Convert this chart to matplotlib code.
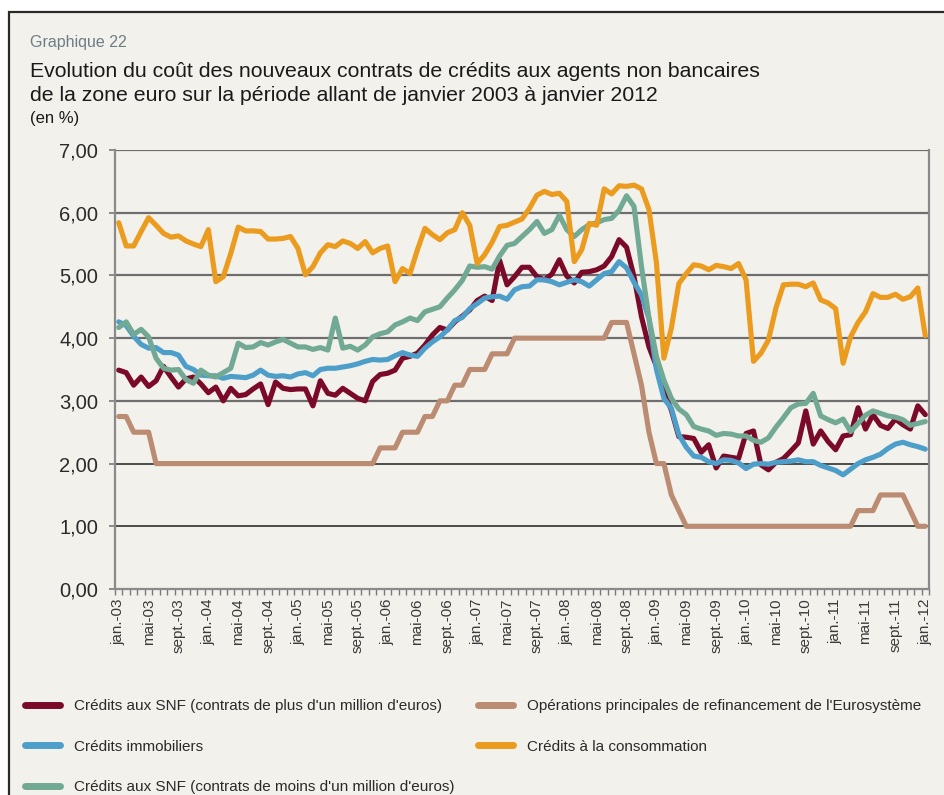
"""
Graphique 22 : coût des nouveaux contrats de crédits, zone euro, janv. 2003 - janv. 2012
"""

import matplotlib
matplotlib.use('Agg')
import matplotlib.pyplot as plt
from matplotlib.lines import Line2D
from matplotlib.patches import Rectangle
from matplotlib.ticker import FixedLocator, FuncFormatter
import numpy as np

# Données mensuelles (en %), janv. 2003 -> janv. 2012 (109 mois)
snf_plus_1m = [
    3.49, 3.45, 3.25, 3.38, 3.23, 3.32, 3.55, 3.38, 3.22, 3.35,
    3.38, 3.27, 3.13, 3.22, 3.00, 3.20, 3.08, 3.10, 3.19, 3.27,
    2.94, 3.30, 3.20, 3.18, 3.19, 3.19, 2.92, 3.32,
    3.12, 3.09, 3.20, 3.12, 3.04, 3.00, 3.31, 3.42, 3.44, 3.49,
    3.68, 3.71, 3.76, 3.89, 4.05, 4.17, 4.13, 4.26, 4.35, 4.45,
    4.60, 4.67, 4.60, 5.24, 4.85, 4.98,
    5.13, 5.13, 4.98, 4.93, 5.02, 5.25, 4.99, 4.88, 5.05, 5.06,
    5.09, 5.15, 5.30, 5.57, 5.45,
    4.98, 4.34, 3.86, 3.55, 3.17, 2.85, 2.43, 2.42, 2.40, 2.18, 2.30, 1.93,
    2.12, 2.10, 2.08, 2.48, 2.52, 1.98, 1.90, 2.02, 2.08, 2.20,
    2.33, 2.84, 2.31, 2.52, 2.35, 2.22, 2.44, 2.46, 2.89, 2.55,
    2.78, 2.61, 2.56, 2.71, 2.62, 2.55, 2.92, 2.78,
]
immobilier = [
    4.26, 4.20, 4.03, 3.90, 3.84, 3.85, 3.77, 3.77, 3.73, 3.55,
    3.50, 3.41, 3.40, 3.40, 3.36, 3.39, 3.38, 3.37, 3.41, 3.49,
    3.41, 3.39, 3.40, 3.38, 3.43, 3.45, 3.40, 3.50,
    3.52, 3.52, 3.54, 3.56, 3.59, 3.63, 3.66, 3.65, 3.66, 3.72,
    3.77, 3.73, 3.71, 3.84, 3.94, 4.02, 4.13, 4.28, 4.33, 4.47, 4.55,
    4.64, 4.66, 4.67, 4.62, 4.77, 4.82, 4.83, 4.93, 4.93, 4.90,
    4.85, 4.89, 4.93, 4.90, 4.83, 4.93, 5.03, 5.06, 5.22, 5.12,
    4.89, 4.69, 4.31, 3.50, 3.04, 2.88, 2.46, 2.26, 2.12, 2.10, 2.03, 2.00,
    2.06, 2.05, 2.01, 1.92, 1.99, 2.00, 1.99, 2.02, 2.03, 2.04,
    2.06, 2.03, 2.03, 1.97, 1.93, 1.89, 1.82, 1.91, 2.00, 2.06,
    2.10, 2.15, 2.24, 2.31, 2.34, 2.30, 2.27, 2.23,
]
snf_moins_1m = [
    4.17, 4.26, 4.06, 4.14, 4.02, 3.68, 3.52, 3.49, 3.50, 3.34,
    3.28, 3.49, 3.41, 3.38, 3.45, 3.52, 3.92, 3.85, 3.86, 3.93,
    3.89, 3.94, 3.98, 3.92, 3.86, 3.86, 3.82, 3.85,
    3.81, 4.32, 3.84, 3.87, 3.81, 3.89, 4.02, 4.07, 4.10, 4.21,
    4.26, 4.32, 4.28, 4.42, 4.46, 4.50, 4.64, 4.77, 4.92, 5.15, 5.13,
    5.14, 5.10, 5.31, 5.48, 5.51, 5.62, 5.73, 5.86, 5.67, 5.73,
    5.96, 5.73, 5.62, 5.73, 5.81, 5.84, 5.89, 5.91, 6.04, 6.27,
    6.10, 5.14, 4.32, 3.71, 3.33, 3.04, 2.87, 2.78, 2.59, 2.55, 2.52, 2.45,
    2.48, 2.47, 2.44, 2.44, 2.37, 2.34, 2.41, 2.58, 2.73, 2.89,
    2.95, 2.96, 3.12, 2.76, 2.70, 2.65, 2.71, 2.51, 2.64, 2.77,
    2.84, 2.80, 2.76, 2.74, 2.70, 2.61, 2.64, 2.67,
]
refinancement = (
    [2.75] * 2 + [2.50] * 3 + [2.00] * 30 + [2.25] * 3 + [2.50] * 3
    + [2.75] * 2 + [3.00] * 2 + [3.25] * 2 + [3.50] * 3 + [3.75] * 3
    + [4.00] * 13 + [4.25] * 3 + [3.75, 3.25, 2.50, 2.00, 2.00, 1.50, 1.25]
    + [1.00] * 23 + [1.25] * 3 + [1.50] * 4 + [1.25] + [1.00] * 2
)
consommation = [
    5.84, 5.47, 5.47, 5.70, 5.92, 5.80, 5.67, 5.61, 5.63, 5.55,
    5.50, 5.46, 5.73, 4.90, 4.98, 5.35, 5.77, 5.71, 5.71, 5.70,
    5.58, 5.58, 5.59, 5.62, 5.43, 5.01, 5.14, 5.36,
    5.49, 5.46, 5.55, 5.51, 5.43, 5.54, 5.36, 5.43, 5.47, 4.90,
    5.11, 5.03, 5.41, 5.75, 5.65, 5.57, 5.68, 5.73, 6.00, 5.80,
    5.19, 5.33, 5.53, 5.78, 5.80, 5.85,
    5.90, 6.07, 6.28, 6.34, 6.29, 6.31, 6.18, 5.22, 5.41, 5.83,
    5.80, 6.38, 6.30, 6.43, 6.42,
    6.44, 6.38, 6.05, 5.20, 3.68, 4.16, 4.87, 5.03, 5.17, 5.15, 5.09, 5.16,
    5.14, 5.11, 5.19, 4.93, 3.63, 3.76, 3.97, 4.48, 4.85, 4.86,
    4.86, 4.82, 4.88, 4.61, 4.56, 4.47, 3.60, 4.02, 4.25, 4.42,
    4.71, 4.65, 4.65, 4.70, 4.62, 4.66, 4.80, 4.04,
]

mois_labels = ['jan.', 'mai', 'sept.']
annees = range(2003, 2013)
x_labels = [f'{m}-{a % 100:02d}' for a in annees for m in mois_labels][:28]

series = [
    ('Crédits aux SNF (contrats de plus d\'un million d\'euros)', snf_plus_1m, '#7b0a28'),
    ('Crédits immobiliers', immobilier, '#4d9fca'),
    ('Crédits aux SNF (contrats de moins d\'un million d\'euros)', snf_moins_1m, '#72a995'),
    ('Opérations principales de refinancement de l\'Eurosystème', refinancement, '#bb8b72'),
    ('Crédits à la consommation', consommation, '#eb9b1d'),
]

BG = '#f2f1ec'
FONT = ['Liberation Sans', 'DejaVu Sans']
W, H = 944, 795

fig = plt.figure(figsize=(W / 100, H / 100), dpi=100, facecolor='white')
fig.patches.append(Rectangle((9 / W, -0.05), 1.2, 1 - 12 / H + 0.05,
                             transform=fig.transFigure, facecolor=BG,
                             edgecolor='#2a2a2a', lw=1.6, zorder=-10))

ax = fig.add_axes([115 / W, 1 - 589 / H, (929 - 115) / W, (589 - 150) / H])
ax.set_facecolor('none')

x = np.arange(len(snf_plus_1m))
for z, (label, vals, color) in enumerate(series):
    ax.plot(x, vals, color=color, lw=3.7, solid_joinstyle='round',
            solid_capstyle='round', zorder=3 + z)

# grille : gris foncé de 3 à 7, noir pour 1 et 2
for yv in range(1, 8):
    if yv <= 2:
        ax.axhline(yv, color='#1e1e1e', lw=1.1, zorder=1)
    else:
        ax.axhline(yv, color='#6e6e6e', lw=1.6, zorder=1)

ax.set_xlim(-0.5, len(x) - 0.5)
ax.set_ylim(0, 7)
ax.yaxis.set_major_locator(FixedLocator(range(8)))
ax.yaxis.set_major_formatter(FuncFormatter(lambda v, p: f'{v:.2f}'.replace('.', ',')))
ax.xaxis.set_major_locator(FixedLocator(np.arange(0, len(x), 4)))
ax.set_xticklabels(x_labels, rotation=90, fontsize=11, family=FONT,
                   color='#3a3a3a')
ax.xaxis.set_minor_locator(FixedLocator(np.arange(-0.5, len(x), 1)))
ax.tick_params(axis='x', which='major', length=0, pad=7)
ax.tick_params(axis='x', which='minor', length=4, width=1, color='#7a7a7a', direction='out')
ax.tick_params(axis='y', length=4, width=1.2, color='#7a7a7a', pad=8)
for t in ax.get_yticklabels():
    t.set_family(FONT)
    t.set_fontsize(14.5)
    t.set_color('#2a2a2a')

ax.spines['top'].set_visible(False)
for s in ('left', 'right', 'bottom'):
    ax.spines[s].set_color('#8a8a8a')
    ax.spines[s].set_linewidth(1.6)

# titres
fig.text(30 / W, 1 - 47 / H, 'Graphique 22', fontsize=11.5, color='#6d7d87',
         family=FONT, va='baseline')
fig.text(30 / W, 1 - 77 / H,
         'Evolution du coût des nouveaux contrats de crédits aux agents non bancaires',
         fontsize=15.3, color='#1a1a1a', family=FONT, va='baseline')
fig.text(30 / W, 1 - 101 / H,
         'de la zone euro sur la période allant de janvier 2003 à janvier 2012',
         fontsize=15.3, color='#1a1a1a', family=FONT, va='baseline')
fig.text(30 / W, 1 - 118 / H, '(en %)', fontsize=12, color='#1a1a1a',
         family=FONT, va='center')

# légende en deux colonnes
def handle(color):
    return Line2D([], [], color=color, lw=5, solid_capstyle='round')

col1 = [series[0], series[1], series[2]]
col2 = [series[3], series[4]]
for items, x0 in ((col1, 25), (col2, 478)):
    leg = fig.legend([handle(c) for _, _, c in items], [l for l, _, _ in items],
                     loc='upper left', bbox_to_anchor=(x0 / W, 1 - 699 / H),
                     frameon=False, borderpad=0, borderaxespad=0,
                     handlelength=2.3, handletextpad=0.9, labelspacing=1.75,
                     prop={'family': FONT, 'size': 11})
    for t in leg.get_texts():
        t.set_color('#2a2a2a')

fig.savefig('out.png', dpi=100, facecolor='white')
